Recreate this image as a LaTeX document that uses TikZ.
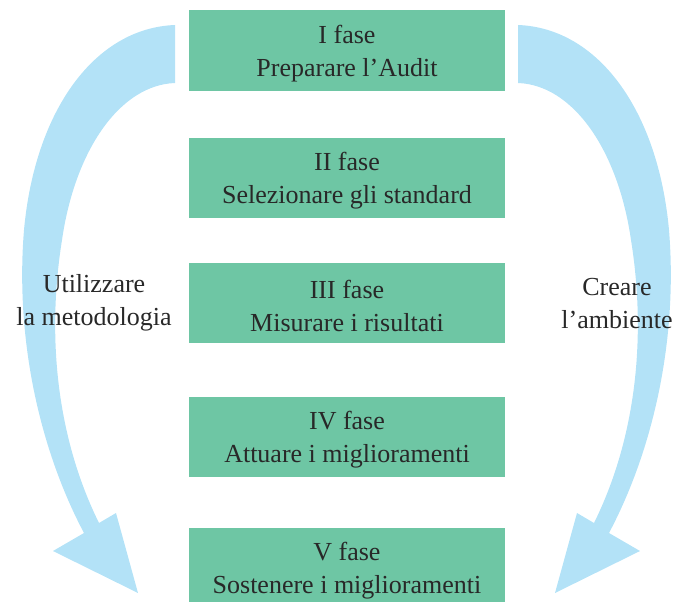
\documentclass[tikz,border=0pt]{standalone}
\usepackage{fontspec}
\setmainfont{Liberation Serif}
\usepackage{xcolor}
\definecolor{fasegreen}{RGB}{110,198,164}
\definecolor{arrowblue}{RGB}{179,226,247}
\definecolor{textgray}{RGB}{40,40,40}
\newcommand{\tallstrut}{\rule{0pt}{24pt}}

\tikzset{
  textlines/.style={align=center, text=textgray, font=\fontsize{26}{33}\selectfont},
  fasebox/.style={textlines, fill=fasegreen, minimum width=316pt, minimum height=80pt, inner sep=0pt},
  sidelabel/.style={textlines},
  bluearrow/.pic={
    \fill[arrowblue] (175,25) .. controls (95,28) and (35,110) .. (24,230)
      .. controls (15,340) and (40,450) .. (84,533)
      -- (53,551) -- (138,593) -- (116,513) -- (99,523)
      .. controls (58,440) and (46,340) .. (62,240)
      .. controls (75,150) and (120,85) .. (175,83) -- cycle;
  }
}

\begin{document}
\begin{tikzpicture}[x=1pt, y=-1pt]
\useasboundingbox (0,0) rectangle (677,602);
% curved arrows
\pic at (0,0) {bluearrow};
\pic[xscale=-1] at (693,0) {bluearrow};
% phases
\node[fasebox] (fase1) at (347,50.5) {\tallstrut I fase\\Preparare l’Audit};
\node[fasebox] (fase2) at (347,178) {\tallstrut II fase\\Selezionare gli standard};
\node[fasebox] (fase3) at (347,303) {\tallstrut III fase\\Misurare i risultati};
\node[fasebox] (fase4) at (347,437) {\tallstrut IV fase\\Attuare i miglioramenti};
\node[fasebox] (fase5) at (347,568) {\tallstrut V fase\\Sostenere i miglioramenti};
% side labels
\node[sidelabel] (metodo) at (94,300) {\tallstrut Utilizzare\\la metodologia};
\node[sidelabel] (ambiente) at (617,300) {\tallstrut Creare\\l’ambiente};
\end{tikzpicture}
\end{document}
